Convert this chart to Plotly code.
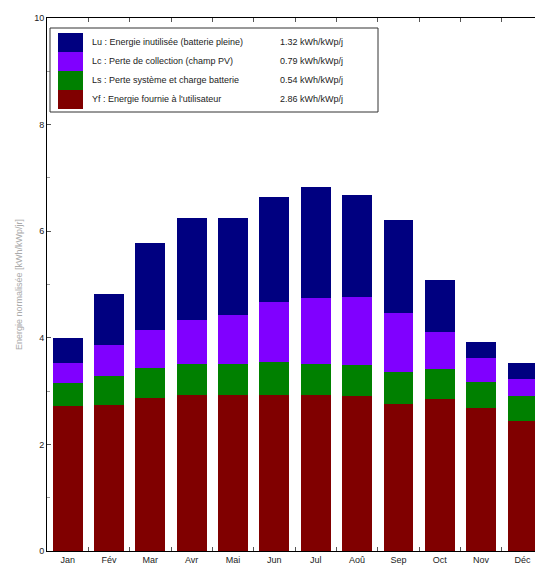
import plotly.graph_objects as go

mois = ['Jan', 'Fév', 'Mar', 'Avr', 'Mai', 'Jun', 'Jul', 'Aoû', 'Sep', 'Oct', 'Nov', 'Déc']

# kWh/kWp/jour, du bas vers le haut de la pile
yf = [2.72, 2.74, 2.87, 2.93, 2.93, 2.93, 2.93, 2.91, 2.76, 2.85, 2.69, 2.43]
ls = [0.44, 0.54, 0.56, 0.58, 0.58, 0.62, 0.57, 0.58, 0.59, 0.56, 0.49, 0.47]
lc = [0.37, 0.58, 0.72, 0.82, 0.92, 1.13, 1.24, 1.27, 1.12, 0.70, 0.44, 0.32]
lu = [0.47, 0.97, 1.62, 1.91, 1.82, 1.97, 2.08, 1.92, 1.74, 0.97, 0.30, 0.31]

noms = ['Yf : Energie fournie à l\'utilisateur',
        'Ls : Perte système et charge batterie',
        'Lc : Perte de collection (champ PV)',
        'Lu : Energie inutilisée (batterie pleine)']
moyennes = ['2.86 kWh/kWp/j', '0.54 kWh/kWp/j', '0.79 kWh/kWp/j', '1.32 kWh/kWp/j']
couleurs = ['#800000', '#008000', '#8000ff', '#000080']

# la page ajoute une marge de 8 px autour du graphe
OFF = 8
W, H = 543 - OFF, 572 - OFF
L, R, T, B = 47, 541, 18, 551   # zone du graphe en pixels (fenetre)

def px_x(p):
    return (p - L) / (R - L)

def px_y(p):
    return (B - p) / (B - T)

fig = go.Figure()
for nom, vals, c in zip(noms, [yf, ls, lc, lu], couleurs):
    fig.add_trace(go.Bar(x=mois, y=vals, name=nom, marker_color=c,
                         marker_line_width=0, showlegend=False))

# legende dessinee a la main (style matlab)
shapes = [dict(type='rect', xref='paper', yref='paper',
               x0=px_x(50), x1=px_x(378), y0=px_y(112), y1=px_y(28),
               line=dict(color='#333', width=1), fillcolor='white')]
annots = []
ordre = [3, 2, 1, 0]
for i, k in enumerate(ordre):
    top = 33 + 19 * i
    shapes.append(dict(type='rect', xref='paper', yref='paper',
                       x0=px_x(58), x1=px_x(83), y0=px_y(top + 19), y1=px_y(top),
                       line_width=0, fillcolor=couleurs[k]))
    annots.append(dict(xref='paper', yref='paper', x=px_x(90), y=px_y(top + 9.5),
                       text=noms[k], showarrow=False, xanchor='left', yanchor='middle',
                       font=dict(size=9, color='#222')))
    annots.append(dict(xref='paper', yref='paper', x=px_x(278), y=px_y(top + 9.5),
                       text=moyennes[k], showarrow=False, xanchor='left', yanchor='middle',
                       font=dict(size=9, color='#222')))

fig.update_layout(
    width=W, height=H,
    margin=dict(l=L - OFF, r=W - (R - OFF), t=T - OFF, b=H - (B - OFF)),
    barmode='stack', bargap=0.28,
    plot_bgcolor='white', paper_bgcolor='white',
    font=dict(family='Liberation Sans, Arial, sans-serif', size=9, color='#222'),
    shapes=shapes, annotations=annots,
)
fig.update_xaxes(type='category', range=[-0.5, 11.45], showline=True, linecolor='black',
                 mirror='ticks', ticks='inside', tickson='boundaries', ticklen=4,
                 tickcolor='#555', showgrid=False)
fig.update_yaxes(range=[0, 10], dtick=2, showline=True, linecolor='black', mirror='ticks',
                 ticks='inside', ticklen=4, tickcolor='#555', showgrid=False, zeroline=False,
                 minor=dict(dtick=1, ticks='inside', ticklen=3, tickcolor='#999'),
                 title=dict(text='Energie normalisée [kWh/kWp/jr]', standoff=10,
                            font=dict(size=9, color='#aaa')))

fig.write_html('out.html')
